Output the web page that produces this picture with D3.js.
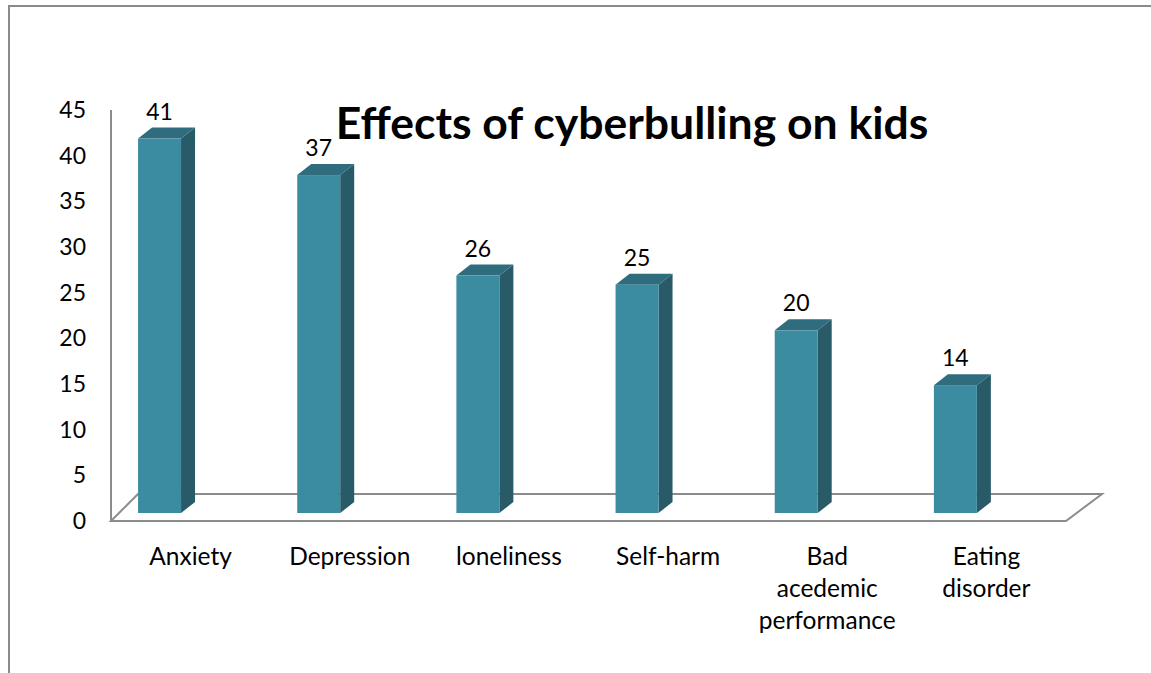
<!DOCTYPE html>
<html>
<head>
<meta charset="utf-8">
<script src="https://cdn.jsdelivr.net/npm/d3@7"></script>
<style>
  html, body { margin: 0; padding: 0; background: #fff; }
  svg { display: block; font-family: Lato, "Open Sans", sans-serif; }
</style>
</head>
<body>
<div id="app"></div>
<script>
const categories = ["Anxiety", "Depression", "loneliness", "Self-harm", "Bad acedemic performance", "Eating disorder"];
const categoryLines = [["Anxiety"], ["Depression"], ["loneliness"], ["Self-harm"], ["Bad", "acedemic", "performance"], ["Eating", "disorder"]];
const values = [41, 37, 26, 25, 20, 14];
const yTicks = [0, 5, 10, 15, 20, 25, 30, 35, 40, 45];
const title = "Effects of cyberbulling on kids";

const W = 1151, H = 673;
const svg = d3.select("#app").append("svg").attr("width", W).attr("height", H);

// outer chart border (cut off at right/bottom like the source)
svg.append("rect")
  .attr("x", 9).attr("y", 6)
  .attr("width", W + 20).attr("height", H + 20)
  .attr("fill", "none").attr("stroke", "#8a8a8a").attr("stroke-width", 2);

const x = d3.scaleBand().domain(categories).range([111, 1066]).padding(0);
const y = d3.scaleLinear().domain([0, 45]).range([521, 110]);
const bw = x.bandwidth();

// 3d projection offsets
const floorDepth = { dxL: 27, dxR: 36, dy: 27 };
const barDepth = { dx: 14, dy: 11 };
const barLift = 8;

// floor
const y0 = y(0);
svg.append("path")
  .attr("d", `M${x.range()[0]},${y0} L${x.range()[1]},${y0} L${x.range()[1] + floorDepth.dxR},${y0 - floorDepth.dy} L${x.range()[0] + floorDepth.dxL},${y0 - floorDepth.dy} Z`)
  .attr("fill", "#fff").attr("stroke", "#8c8c8c").attr("stroke-width", 2);

// left wall line
svg.append("line")
  .attr("x1", x.range()[0]).attr("x2", x.range()[0])
  .attr("y1", y(45)).attr("y2", y0)
  .attr("stroke", "#8c8c8c").attr("stroke-width", 2);

// y tick labels
svg.append("g").selectAll("text").data(yTicks).join("text")
  .attr("x", 86).attr("y", d => y(d) + 8)
  .attr("text-anchor", "end")
  .attr("font-size", 23)
  .text(d => d);

// bars
const bars = svg.append("g").selectAll("g").data(values).join("g");
const bx = (d, i) => x(categories[i]) + bw * 0.17;
const barW = bw * 0.27;

bars.append("path") // side
  .attr("d", (d, i) => {
    const l = bx(d, i) + barW, t = y(d) - barLift, b = y(0) - barLift;
    return `M${l},${t} L${l + barDepth.dx},${t - barDepth.dy} L${l + barDepth.dx},${b - barDepth.dy} L${l},${b} Z`;
  })
  .attr("fill", "#285a67");

bars.append("path") // top
  .attr("d", (d, i) => {
    const l = bx(d, i), t = y(d) - barLift;
    return `M${l},${t} L${l + barW},${t} L${l + barW + barDepth.dx},${t - barDepth.dy} L${l + barDepth.dx},${t - barDepth.dy} Z`;
  })
  .attr("fill", "#2f6d7e");

bars.append("rect") // front
  .attr("x", (d, i) => bx(d, i))
  .attr("y", d => y(d) - barLift)
  .attr("width", barW)
  .attr("height", d => y(0) - y(d))
  .attr("fill", "#3b8ba1");

// value labels
bars.append("text")
  .attr("x", (d, i) => bx(d, i) + barW / 2)
  .attr("y", d => y(d) - barLift - barDepth.dy - 8)
  .attr("text-anchor", "middle")
  .attr("font-size", 23)
  .text(d => d);

// category labels
svg.append("g").selectAll("text").data(categoryLines).join("text")
  .attr("text-anchor", "middle")
  .attr("font-size", 24.5)
  .attr("transform", (d, i) => `translate(${x(categories[i]) + bw / 2},565)`)
  .selectAll("tspan").data(d => d).join("tspan")
  .attr("x", 0).attr("y", (d, j) => j * 32)
  .text(d => d);

// title
svg.append("text")
  .attr("x", 632).attr("y", 139)
  .attr("text-anchor", "middle")
  .attr("font-size", 44.5).attr("font-weight", "bold")
  .text(title);
</script>
</body>
</html>
